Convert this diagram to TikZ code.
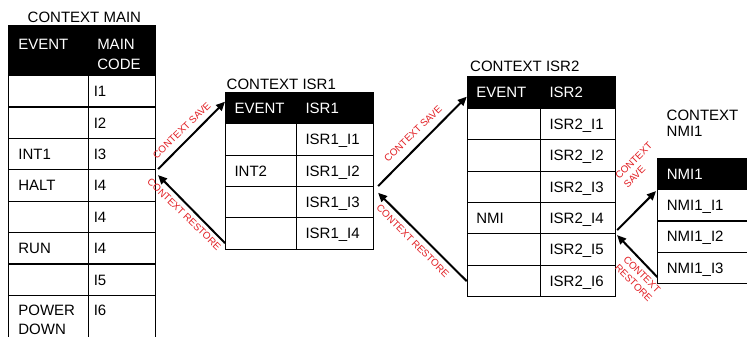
\documentclass[tikz,border=0pt]{standalone}
\usepackage{fontspec}
\setmainfont{Liberation Sans}
\usetikzlibrary{arrows.meta}
\definecolor{lblred}{RGB}{225,30,35}
\begin{document}
\begin{tikzpicture}[x=1pt,y=-1pt,
  cell/.style={draw=black, line width=1.1pt, rectangle, anchor=north west, inner ysep=0pt,
    align=left, font=\fontsize{15}{19.5}\selectfont, text height=10.7pt, text depth=0pt,
    minimum height=31.4pt},
  head/.style={cell, fill=black, text=white},
  mL/.style={minimum width=79.4pt, text width=60.4pt, inner xsep=9.5pt},
  mR/.style={minimum width=67.3pt, text width=56.3pt, inner xsep=5.5pt},
  mRh/.style={minimum width=67.3pt, text width=49.3pt, inner xsep=9pt},
  aL/.style={minimum width=71pt, text width=53pt, inner xsep=9pt},
  aR/.style={minimum width=77.3pt, text width=59.3pt, inner xsep=9pt},
  bL/.style={minimum width=73.3pt, text width=55.3pt, inner xsep=9pt, minimum height=31.3pt},
  bR/.style={minimum width=74.5pt, text width=56.5pt, inner xsep=9pt, minimum height=31.3pt},
  cC/.style={minimum width=102.7pt, text width=84.7pt, inner xsep=9pt, minimum height=31.2pt},
  ttl/.style={anchor=base west, inner sep=0pt, font=\fontsize{15}{19.5}\selectfont},
  lbl/.style={text=lblred, font=\fontsize{9.9}{12}\selectfont, inner sep=0pt, align=left},
  arr/.style={line width=2pt, -{Triangle[length=9pt,width=8pt]}}
]
\useasboundingbox (0,0) rectangle (747,337);
\clip (0,0) rectangle (747,337);

% ---------- CONTEXT MAIN ----------
\node[ttl] (tmain) at (27.5,22.7) {CONTEXT MAIN};
\node[head, mL, minimum height=50pt, text depth=12.7pt] (mh1) at (8.3,25) {EVENT};
\node[head, mRh, minimum height=50pt, text depth=12.7pt] (mh2) at (87.7,25) {MAIN\\CODE};
\node[cell, mL] (m1l) at (8.3,75) {};
\node[cell, mR] (m1r) at (87.7,75) {I1};
\node[cell, mL] (m2l) at (8.3,106.4) {};
\node[cell, mR] (m2r) at (87.7,106.4) {I2};
\node[cell, mL] (m3l) at (8.3,137.8) {INT1};
\node[cell, mR] (m3r) at (87.7,137.8) {I3};
\node[cell, mL] (m4l) at (8.3,169.2) {HALT};
\node[cell, mR] (m4r) at (87.7,169.2) {I4};
\node[cell, mL] (m5l) at (8.3,200.6) {};
\node[cell, mR] (m5r) at (87.7,200.6) {I4};
\node[cell, mL] (m6l) at (8.3,232) {RUN};
\node[cell, mR] (m6r) at (87.7,232) {I4};
\node[cell, mL] (m7l) at (8.3,263.4) {};
\node[cell, mR] (m7r) at (87.7,263.4) {I5};
\node[cell, mL, minimum height=48.8pt, text depth=19.5pt] (m8l) at (8.3,294.8) {POWER\\DOWN};
\node[cell, mR, minimum height=48.8pt, text depth=19.5pt] (m8r) at (87.7,294.8) {I6};

% ---------- CONTEXT ISR1 ----------
\node[ttl] (tisr1) at (226.5,89) {CONTEXT ISR1};
\node[head, aL] (ah1) at (225,91.7) {EVENT};
\node[head, aR] (ah2) at (296,91.7) {ISR1};
\node[cell, aL] (a1l) at (225,123.1) {};
\node[cell, aR] (a1r) at (296,123.1) {ISR1\_I1};
\node[cell, aL] (a2l) at (225,154.5) {INT2};
\node[cell, aR] (a2r) at (296,154.5) {ISR1\_I2};
\node[cell, aL] (a3l) at (225,185.9) {};
\node[cell, aR] (a3r) at (296,185.9) {ISR1\_I3};
\node[cell, aL] (a4l) at (225,217.3) {};
\node[cell, aR] (a4r) at (296,217.3) {ISR1\_I4};

% ---------- CONTEXT ISR2 ----------
\node[ttl] (tisr2) at (470,71.7) {CONTEXT ISR2};
\node[head, bL, minimum height=32pt] (bh1) at (466.7,76) {EVENT};
\node[head, bR, minimum height=32pt] (bh2) at (540,76) {ISR2};
\node[cell, bL] (b1l) at (466.7,108) {};
\node[cell, bR] (b1r) at (540,108) {ISR2\_I1};
\node[cell, bL] (b2l) at (466.7,139.3) {};
\node[cell, bR] (b2r) at (540,139.3) {ISR2\_I2};
\node[cell, bL] (b3l) at (466.7,170.6) {};
\node[cell, bR] (b3r) at (540,170.6) {ISR2\_I3};
\node[cell, bL] (b4l) at (466.7,201.9) {NMI};
\node[cell, bR] (b4r) at (540,201.9) {ISR2\_I4};
\node[cell, bL] (b5l) at (466.7,233.2) {};
\node[cell, bR] (b5r) at (540,233.2) {ISR2\_I5};
\node[cell, bL] (b6l) at (466.7,264.5) {};
\node[cell, bR] (b6r) at (540,264.5) {ISR2\_I6};

% ---------- CONTEXT NMI1 ----------
\node[ttl, font=\fontsize{15}{16.6}\selectfont, align=left] (tnmi) at (666.5,136.7) {CONTEXT\\NMI1};
\node[head, cC, minimum height=31.5pt] (ch) at (657.3,157.7) {NMI1};
\node[cell, cC] (c1) at (657.3,189.2) {NMI1\_I1};
\node[cell, cC] (c2) at (657.3,220.4) {NMI1\_I2};
\node[cell, cC] (c3) at (657.3,251.6) {NMI1\_I3};

% ---------- arrows ----------
\draw[arr] ([xshift=2pt,yshift=1.2pt]m3r.south east) -- ([yshift=-10pt]ah1.north west);
\draw[arr] ([yshift=6.7pt]a4l.south west) -- ([xshift=2pt,yshift=-4.8pt]m3r.south east);
\draw[arr] ([xshift=3.7pt,yshift=0.9pt]a2r.south east) -- ([yshift=-20.7pt]bh1.north west);
\draw[arr] ([yshift=15.8pt]b6l.south west) -- ([xshift=3.7pt,yshift=-5.8pt]a2r.south east);
\draw[arr] ([xshift=1.5pt,yshift=4.2pt]b4r.south east) -- ([xshift=-1.3pt,yshift=-0.8pt]ch.south west);
\draw[arr] ([yshift=6.8pt]c3.south west) -- ([xshift=1.5pt,yshift=-0.8pt]b4r.south east);

% ---------- labels ----------
\node[lbl, rotate=44] (l1) at (181.7,130.3) {CONTEXT SAVE};
\node[lbl, rotate=-44] (l2) at (184.2,214.2) {CONTEXT RESTORE};
\node[lbl, rotate=44] (l3) at (413,133.7) {CONTEXT SAVE};
\node[lbl, rotate=-45] (l4) at (412.8,241) {CONTEXT RESTORE};
\node[lbl, rotate=45] (l5) at (637.9,165) {CONTEXT\\SAVE};
\node[lbl, rotate=-45] (l6) at (637.9,278.7) {CONTEXT\\RESTORE};
\end{tikzpicture}
\end{document}
